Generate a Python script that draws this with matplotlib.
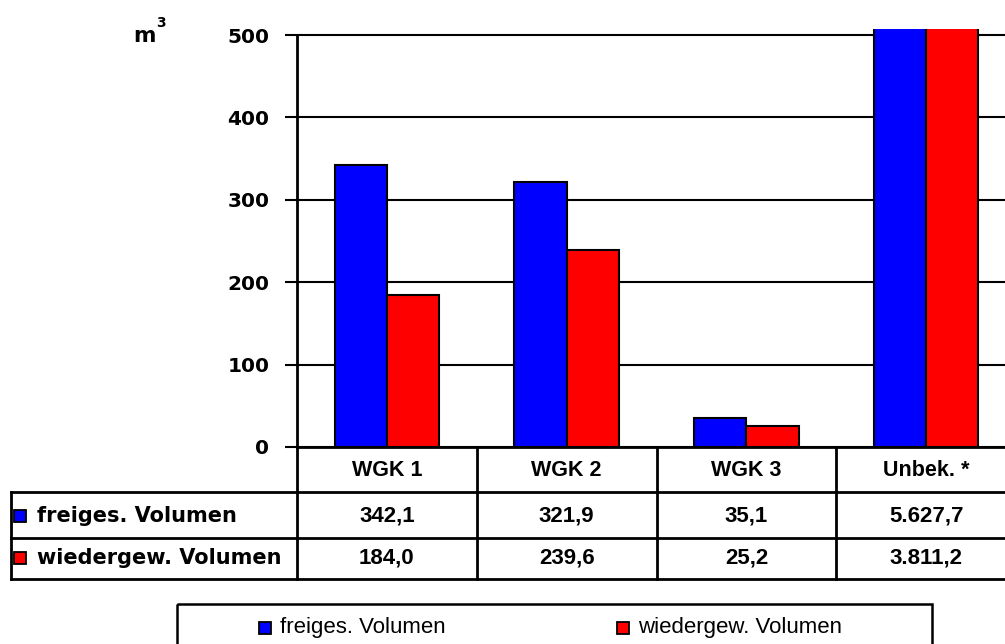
import numpy as np
import matplotlib
matplotlib.use("Agg")
import matplotlib.pyplot as plt
import matplotlib.transforms as mtransforms
from matplotlib.patches import Rectangle

categories = ["WGK 1", "WGK 2", "WGK 3", "Unbek. *"]
series_names = ["freiges. Volumen", "wiedergew. Volumen"]
freiges = [342.1, 321.9, 35.1, 5627.7]
wiedergew = [184.0, 239.6, 25.2, 3811.2]
colors = ["#0000FF", "#FF0000"]
yticks = [0, 100, 200, 300, 400, 500]


def de_fmt(v):
    s = "{:,.1f}".format(v)
    return s.replace(",", "X").replace(".", ",").replace("X", ".")


W, H = 1005, 644
fig = plt.figure(figsize=(W / 100, H / 100), dpi=100)

# plot area runs past the right edge of the picture
ax = fig.add_axes([297 / W, 1 - 447 / H, 719 / W, 418 / H])
X = np.arange(len(categories))
ax.bar(X - 0.145, freiges, 0.29, color=colors[0], edgecolor="black", linewidth=1.5, zorder=3)
ax.bar(X + 0.145, wiedergew, 0.29, color=colors[1], edgecolor="black", linewidth=1.5, zorder=3)
ax.set_xlim(-0.5, len(categories) - 0.5)
ax.set_ylim(0, 507.3)
ax.set_yticks(yticks)
ax.set_yticklabels([str(t) for t in yticks], fontsize=14.5, fontweight="bold")
ax.set_xticks([])
ax.yaxis.grid(True, color="black", linewidth=1.5)
ax.set_axisbelow(True)
for s in ["top", "right", "bottom"]:
    ax.spines[s].set_visible(False)
ax.spines["left"].set_bounds(0, 500)
ax.spines["left"].set_linewidth(2)
ax.tick_params(axis="y", length=9, width=1.5, pad=11)

# overlay in pixel coordinates for the data table and legend
ov = fig.add_axes([0, 0, 1, 1], zorder=5)
ov.set_xlim(0, W)
ov.set_ylim(H, 0)
ov.axis("off")
ov.patch.set_visible(False)
tr = mtransforms.blended_transform_factory(ax.transData, ov.transData)

lw = 2
ov.plot([-0.5, 3.5], [447, 447], color="black", lw=lw, transform=tr, clip_on=False)
for y in [492, 538, 579]:
    ov.plot([11, W + 20], [y, y], color="black", lw=lw, clip_on=False)
ov.plot([11, 11], [492, 579], color="black", lw=lw)
for b in np.arange(len(categories)) - 0.5:
    ov.plot([b, b], [447, 579], color="black", lw=lw, transform=tr, clip_on=False)

for i, c in enumerate(categories):
    ov.text(i, 470, c, transform=tr, ha="center", va="center", fontsize=15.5,
            fontweight="bold", family="Liberation Sans")
    ov.text(i, 516, de_fmt(freiges[i]), transform=tr, ha="center", va="center",
            fontsize=16, fontweight="bold", family="Liberation Sans")
    ov.text(i, 558, de_fmt(wiedergew[i]), transform=tr, ha="center", va="center",
            fontsize=16, fontweight="bold", family="Liberation Sans")

for name, col, y in zip(series_names, colors, [516, 558]):
    ov.plot([19.5], [y], marker="s", markersize=8, color=col, markeredgecolor="black",
            markeredgewidth=1.3)
    ov.text(37, y, name, ha="left", va="center", fontsize=15, fontweight="bold")

# unit label
ov.text(133, 42, "m", ha="left", va="baseline", fontsize=15.5, fontweight="bold")
ov.text(156, 27, "3", ha="left", va="baseline", fontsize=10, fontweight="bold")

# legend box
ov.add_patch(Rectangle((177, 604), 932 - 177, 60, fill=False, edgecolor="black",
                       lw=1.8, clip_on=False))
for name, col, mx, tx in zip(series_names, colors, [265, 623], [280, 638]):
    ov.plot([mx], [628], marker="s", markersize=8, color=col, markeredgecolor="black",
            markeredgewidth=1.3)
    ov.text(tx, 628, name, ha="left", va="center", fontsize=16, family="Liberation Sans")

plt.savefig("out.png", dpi=100)
